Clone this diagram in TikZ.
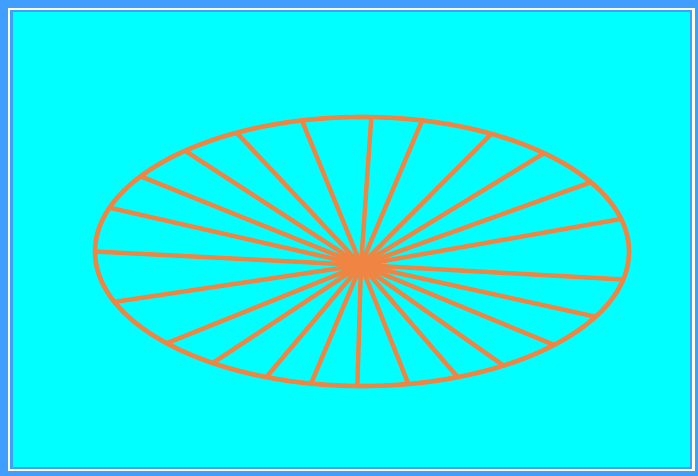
\documentclass[tikz,border=0pt]{standalone}
\begin{document}
\begin{tikzpicture}[x=1pt,y=-1pt,
  spoke/.style={draw=wheelorange,line width=4.4pt},
  rim/.style={draw=wheelorange,line width=4.6pt}]
\definecolor{wheelorange}{RGB}{240,132,66}
\definecolor{frameblue}{RGB}{64,158,255}
\definecolor{framepale}{RGB}{255,255,225}
\definecolor{bgcyan}{RGB}{0,255,255}
\useasboundingbox (0,0) rectangle (698,476);
\fill[frameblue] (0,0) rectangle (698,476);
\fill[framepale] (7.5,8) rectangle (695,471);
\fill[frameblue] (10,10.5) rectangle (692,469);
\fill[bgcyan] (12.5,12.5) rectangle (689.5,467);
\coordinate (hub) at (361,265);
\foreach \t in {348,331,316,302,291,280,269,259,249,236,223,202,180,161,146,131.5,118,103,88,77,61,47,31,14}
  \draw[spoke] (hub) -- ({362+267*cos(\t)},{251.5-134.5*sin(\t)});
\draw[rim] (362,251.5) ellipse [x radius=267pt, y radius=134.5pt];
\end{tikzpicture}
\end{document}
